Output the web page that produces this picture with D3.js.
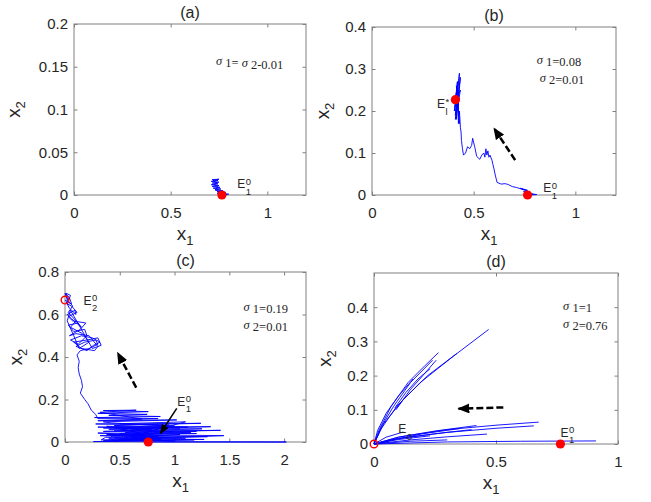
<!DOCTYPE html>
<html>
<head>
<meta charset="utf-8">
<script src="https://cdn.jsdelivr.net/npm/d3@7"></script>
<style>
  body { margin: 0; background: #fff; }
  text { font-family: "Liberation Sans", Arial, sans-serif; fill: #262626; }
  .serif { font-family: "Liberation Serif", "Times New Roman", serif; }
</style>
</head>
<body>
<svg id="chart" width="651" height="502"></svg>
<script>
// ---- data (x1, x2) ----
const xTicksAB = [0, 0.5, 1];
const yTicksA = [0, 0.05, 0.1, 0.15, 0.2];
const yTicksB = [0, 0.1, 0.2, 0.3, 0.4];
const xTicksC = [0, 0.5, 1, 1.5, 2];
const yTicksC = [0, 0.2, 0.4, 0.6, 0.8];
const xTicksD = [0, 0.5, 1];
const yTicksD = [0, 0.1, 0.2, 0.3, 0.4];

// (a) sigma1 = sigma2 = 0.01
const aTraj = [[0.765,0],[0.80,0.001],[0.755,0.002],[0.785,0.003],[0.74,0.004],[0.77,0.005],
  [0.73,0.006],[0.76,0.007],[0.72,0.008],[0.755,0.009],[0.715,0.010],[0.75,0.011],[0.71,0.012],
  [0.745,0.013],[0.715,0.014],[0.75,0.015],[0.71,0.016],[0.745,0.017],[0.715,0.018],[0.75,0.0185],
  [0.72,0.017],[0.74,0.014],[0.725,0.012],[0.745,0.009],[0.73,0.006],[0.755,0.004],[0.74,0.002],
  [0.79,0.0005],[0.765,0]];
const aPoints = [{x: 0.765, y: 0, kind: "stable"}];

// (b) sigma1 = 0.08, sigma2 = 0.01
const bTraj = [[0.765,0],[0.81,0.001],[0.77,0.004],[0.79,0.002],[0.745,0.008],[0.78,0.006],
  [0.74,0.014],[0.765,0.011],[0.73,0.016],[0.75,0.012],[0.71,0.018],[0.69,0.02],[0.67,0.025],
  [0.655,0.027],[0.635,0.026],[0.615,0.03],[0.61,0.04],[0.605,0.05],[0.60,0.062],[0.595,0.072],
  [0.59,0.083],[0.58,0.095],[0.575,0.09],[0.57,0.105],[0.565,0.095],[0.56,0.11],[0.555,0.09],
  [0.55,0.1],[0.54,0.095],[0.53,0.085],[0.515,0.092],[0.505,0.115],[0.495,0.135],[0.49,0.118],
  [0.48,0.11],[0.47,0.115],[0.46,0.1],[0.45,0.095],[0.445,0.11],[0.44,0.13],[0.438,0.15],
  [0.435,0.16],[0.43,0.2],[0.425,0.17],[0.42,0.25],[0.415,0.18],[0.435,0.28],[0.41,0.19],
  [0.42,0.27],[0.405,0.2],[0.43,0.29],[0.425,0.21],[0.415,0.26],[0.43,0.17],[0.42,0.24],
  [0.41,0.18],[0.435,0.25],[0.405,0.22],[0.425,0.27],[0.415,0.2],[0.43,0.23],[0.41,0.21],[0.42,0.225]];
const bPoints = [{x: 0.765, y: 0, kind: "stable"}, {x: 0.41, y: 0.227, kind: "stable"}];

// (c) sigma1 = 0.19, sigma2 = 0.01
const cTraj = [[0.76,0],[2.02,0],[0.26,0.002],[1.18,0.01],[0.35,0.006],[1.27,0.012],[0.4,0.015],
  [1.0,0.004],[0.45,0.02],[1.3,0.025],[0.32,0.03],[1.1,0.018],[0.5,0.01],[1.45,0.03],[0.38,0.035],
  [1.2,0.04],[0.3,0.042],[0.9,0.03],[0.55,0.045],[1.42,0.055],[0.35,0.05],[1.25,0.062],[0.4,0.06],
  [1.33,0.072],[0.3,0.07],[1.05,0.065],[0.45,0.078],[1.24,0.088],[0.28,0.085],[0.95,0.08],
  [0.6,0.02],[1.05,0.035],[0.42,0.028],[0.98,0.05],[0.5,0.04],[0.88,0.012],[0.37,0.022],
  [0.33,0.01],[0.95,0.02],[0.4,0.032],[1.15,0.046],[0.45,0.052],[0.8,0.06],[0.35,0.066],
  [1.0,0.075],[0.5,0.086],[1.1,0.095],[0.45,0.005],[0.85,0.026],[0.55,0.036],[1.2,0.05],
  [0.6,0.056],[0.9,0.068],[0.38,0.074],[0.7,0.04],[0.52,0.062],[1.12,0.07],[0.42,0.09],
  [0.35,0.095],[1.02,0.104],[0.3,0.1],[0.85,0.11],[0.27,0.115],[0.87,0.12],[0.4,0.125],[0.75,0.13],
  [0.3,0.135],[0.76,0.143],[0.35,0.148],[0.65,0.15],[0.32,0.14],[0.7,0.108],[0.3,0.11],[0.28,0.13],
  [0.24,0.15],[0.21,0.18],[0.18,0.2],[0.14,0.23],[0.16,0.26],[0.15,0.29],[0.13,0.32],[0.12,0.35],
  [0.13,0.38],[0.11,0.41],[0.14,0.43],
  [0.22,0.44],[0.3,0.46],[0.28,0.48],[0.18,0.47],[0.1,0.45],[0.2,0.43],[0.26,0.455],[0.32,0.47],
  [0.25,0.49],[0.15,0.5],[0.05,0.48],[0.12,0.46],[0.2,0.5],[0.18,0.53],[0.08,0.52],[0.03,0.55],
  [0.12,0.56],[0.15,0.54],[0.06,0.58],[0.02,0.6],[0.09,0.62],[0.1,0.6],[0.04,0.63],[0.01,0.66],
  [0.06,0.65],[0.04,0.68],[0.0,0.7],[0.02,0.67],[0.07,0.64],[0.03,0.61],[0.1,0.57],[0.05,0.54],
  [0.16,0.51],[0.22,0.47],[0.13,0.44],[0.08,0.5],[0.02,0.57],[0.05,0.62],
  [0.25,0.44],[0.33,0.455],[0.3,0.49],[0.2,0.48],[0.08,0.47],[0.15,0.44],[0.27,0.43],[0.3,0.45],
  [0.22,0.5],[0.1,0.51],[0.04,0.5],[0.14,0.53],[0.19,0.56],[0.07,0.57],[0.03,0.59],[0.11,0.61],
  [0.06,0.64],[0.02,0.65],[0.05,0.69],[0.01,0.7],[0.03,0.66],[0.0,0.668]];
const cPoints = [{x: 0.76, y: 0, kind: "stable"}, {x: 0, y: 0.668, kind: "unstable"}];

// (d) sigma1 = 1, sigma2 = 0.76 : separate excursions towards the origin
const dRays = [
  [[0,0],[0.025,0.04],[0.093,0.11],[0.19,0.18],[0.326,0.257],[0.47,0.335]],
  [[0,0],[0.04,0.06],[0.12,0.13],[0.22,0.2],[0.34,0.265]],
  [[0,0],[0.02,0.04],[0.07,0.11],[0.14,0.18],[0.21,0.23],[0.264,0.267]],
  [[0,0],[0.03,0.05],[0.08,0.11],[0.15,0.18],[0.24,0.245]],
  [[0.085,0.105],[0.13,0.15],[0.18,0.19],[0.23,0.22]],
  [[0.09,0.1],[0.15,0.16],[0.2,0.2],[0.255,0.245]],
  [[0,0],[0.015,0.04],[0.05,0.09],[0.1,0.14],[0.16,0.19]],
  [[0,0],[0.1,0.02],[0.3,0.042],[0.5,0.055],[0.675,0.064]],
  [[0,0],[0.1,0.016],[0.3,0.034],[0.5,0.046],[0.655,0.053]],
  [[0,0],[0.1,0.02],[0.25,0.038],[0.42,0.054]],
  [[0,0],[0.1,0.016],[0.25,0.03],[0.40,0.042]],
  [[0,0],[0.15,0.012],[0.3,0.021],[0.463,0.029]],
  [[0,0],[0.1,0.013],[0.23,0.024]],
  [[0,0],[0.3,0.006],[0.6,0.008],[0.91,0.009]],
  [[0,0],[0.05,0.02],[0.12,0.035]],
  [[0,0],[0.15,0.008],[0.3,0.012]],
  [[0,0],[0.2,0.03],[0.35,0.045]]
];
const dPoints = [{x: 0, y: 0, kind: "unstable"}, {x: 0.764, y: 0, kind: "stable"}];

// ---- panels ----
const panels = [
  { id: "a", box: [74, 24, 306, 195], xd: [0, 1.2], yd: [0, 0.2], xt: xTicksAB, yt: yTicksA, ylo: 54,
    lines: [aTraj], points: aPoints, arrows: [],
    labels: [{x: 0.844, y: 0.0077, sup: "0", sub: "1"}],
    sigma: {x: 0.734, y: 0.152, rows: [[["σ","1"], ["= ",""], ["σ","2"], ["-0.01",""]]]} },
  { id: "b", box: [372, 27, 616, 195], xd: [0, 1.2], yd: [0, 0.4], xt: xTicksAB, yt: yTicksB, ylo: 43,
    lines: [bTraj], points: bPoints,
    arrows: [{from: [0.704, 0.083], to: [0.60, 0.159], dash: true}],
    labels: [{x: 0.32, y: 0.207, sup: "*", sub: "l"}, {x: 0.842, y: 0.007, sup: "0", sub: "1"}],
    sigma: {x: 0.81, y: 0.312, rows: [[["σ","1"], ["=0.08",""]], [["σ","2"], ["=0.01",""]]]} },
  { id: "c", box: [65, 272, 306, 442], xd: [0, 2.2], yd: [0, 0.8], xt: xTicksC, yt: yTicksC, ylo: 43,
    lines: [cTraj], points: cPoints,
    arrows: [{from: [0.65, 0.256], to: [0.48, 0.42], dash: true},
             {from: [1.02, 0.158], to: [0.87, 0.04], dash: false}],
    labels: [{x: 0.168, y: 0.645, sup: "0", sub: "2"}, {x: 1.025, y: 0.171, sup: "0", sub: "1"}],
    sigma: {x: 1.63, y: 0.618, rows: [[["σ","1"], ["=0.19",""]], [["σ","2"], ["=0.01",""]]]} },
  { id: "d", box: [374, 273, 618, 444], xd: [0, 1], yd: [0, 0.5], xt: xTicksD, yt: yTicksD, ylo: 43,
    lines: dRays, points: dPoints,
    arrows: [{from: [0.53, 0.107], to: [0.346, 0.103], dash: true}],
    labels: [{x: 0.099, y: 0.032, sup: "", sub: "0"}, {x: 0.764, y: 0.021, sup: "0", sub: "1"}],
    sigma: {x: 0.775, y: 0.392, rows: [[["σ","1"], ["=1",""]], [["σ","2"], ["=0.76",""]]]} }
];

const svg = d3.select("#chart");
const defs = svg.append("defs");
defs.append("marker").attr("id", "headBig")
  .attr("markerUnits", "userSpaceOnUse").attr("markerWidth", 12).attr("markerHeight", 10)
  .attr("refX", 11).attr("refY", 5).attr("orient", "auto")
  .append("path").attr("d", "M0,0 L12,5 L0,10 Z").attr("fill", "#000");
defs.append("marker").attr("id", "headSmall")
  .attr("markerUnits", "userSpaceOnUse").attr("markerWidth", 10).attr("markerHeight", 8)
  .attr("refX", 9).attr("refY", 4).attr("orient", "auto")
  .append("path").attr("d", "M0,0 L10,4 L0,8 Z").attr("fill", "#000");

panels.forEach(p => {
  const [x0, y0, x1, y1] = p.box;
  const x = d3.scaleLinear().domain(p.xd).range([x0, x1]);
  const y = d3.scaleLinear().domain(p.yd).range([y1, y0]);
  const g = svg.append("g");
  const fmt = v => String(v);

  // axes, ticks pointing inward on all four sides
  const axes = [
    [d3.axisBottom(x).tickValues(p.xt).tickFormat(fmt).tickPadding(12), `translate(0,${y1})`],
    [d3.axisTop(x).tickValues(p.xt).tickFormat(""), `translate(0,${y0})`],
    [d3.axisLeft(y).tickValues(p.yt).tickFormat(fmt).tickPadding(6), `translate(${x0},0)`],
    [d3.axisRight(y).tickValues(p.yt).tickFormat(""), `translate(${x1},0)`]
  ];
  axes.forEach(([ax, tr]) => {
    const a = g.append("g").attr("transform", tr)
      .call(ax.tickSizeInner(-3.5).tickSizeOuter(0));
    a.select(".domain").remove();
    a.selectAll("line").attr("stroke", "#808080");
    a.selectAll("text").attr("font-size", 15).attr("fill", "#262626")
      .attr("font-family", "Liberation Sans, Arial, sans-serif");
  });
  g.append("rect").attr("x", x0).attr("y", y0).attr("width", x1 - x0).attr("height", y1 - y0)
    .attr("fill", "none").attr("stroke", "#808080").attr("stroke-width", 1);

  // title and axis labels
  g.append("text").attr("x", (x0 + x1) / 2).attr("y", y0 - 6).attr("text-anchor", "middle")
    .attr("font-size", 16).text(`(${p.id})`);
  const xl = g.append("text").attr("x", (x0 + x1) / 2 - 5).attr("y", y1 + 45)
    .attr("text-anchor", "middle").attr("font-size", 19);
  xl.append("tspan").text("x");
  xl.append("tspan").attr("font-size", 13).attr("dy", 5).text("1");
  const yl = g.append("text")
    .attr("transform", `translate(${x0 - p.ylo},${(y0 + y1) / 2}) rotate(-90)`)
    .attr("text-anchor", "middle").attr("font-size", 19);
  yl.append("tspan").text("x");
  yl.append("tspan").attr("font-size", 13).attr("dy", 5).text("2");

  // trajectories
  const line = d3.line().x(d => x(d[0])).y(d => y(d[1]));
  g.selectAll("path.traj").data(p.lines).join("path").attr("class", "traj")
    .attr("d", line).attr("fill", "none").attr("stroke", "#0000ff")
    .attr("stroke-width", 0.9).attr("stroke-linejoin", "round");

  // arrows
  p.arrows.forEach(a => {
    g.append("line")
      .attr("x1", x(a.from[0])).attr("y1", y(a.from[1]))
      .attr("x2", x(a.to[0])).attr("y2", y(a.to[1]))
      .attr("stroke", "#000")
      .attr("stroke-width", a.dash ? 2.5 : 1.5)
      .attr("stroke-dasharray", a.dash ? "7,3" : null)
      .attr("marker-end", a.dash ? "url(#headBig)" : "url(#headSmall)");
  });

  // equilibria
  g.selectAll("circle.eq").data(p.points).join("circle").attr("class", "eq")
    .attr("cx", d => x(d.x)).attr("cy", d => y(d.y))
    .attr("r", d => d.kind === "stable" ? 4.6 : 3.8)
    .attr("fill", d => d.kind === "stable" ? "#ff0000" : "none")
    .attr("stroke", "#ff0000").attr("stroke-width", d => d.kind === "stable" ? 0 : 1.4);

  // E labels
  p.labels.forEach(l => {
    const lx = x(l.x), ly = y(l.y);
    g.append("text").attr("x", lx).attr("y", ly).attr("font-size", 12).text("E");
    if (l.sup) g.append("text").attr("x", lx + 8.5).attr("y", ly - 3.5).attr("font-size", 9.5).text(l.sup);
    if (l.sub) g.append("text").attr("x", lx + 8.5).attr("y", ly + 6.5).attr("font-size", 9.5).text(l.sub);
  });

  // noise intensities
  p.sigma.rows.forEach((row, i) => {
    const t = g.append("text").attr("class", "serif").attr("font-size", 12.5)
      .attr("x", x(p.sigma.x) + (i === 1 && p.id === "b" ? 3 : 0))
      .attr("y", y(p.sigma.y) + i * 18.5);
    row.forEach(([s, sub]) => {
      const ts = t.append("tspan").text(s);
      if (s === "σ") ts.attr("font-style", "italic");
      if (sub) {
        t.append("tspan").attr("dy", 2).text(" " + sub);
        t.append("tspan").attr("dy", -2).text("");
      }
    });
  });
});
</script>
</body>
</html>
